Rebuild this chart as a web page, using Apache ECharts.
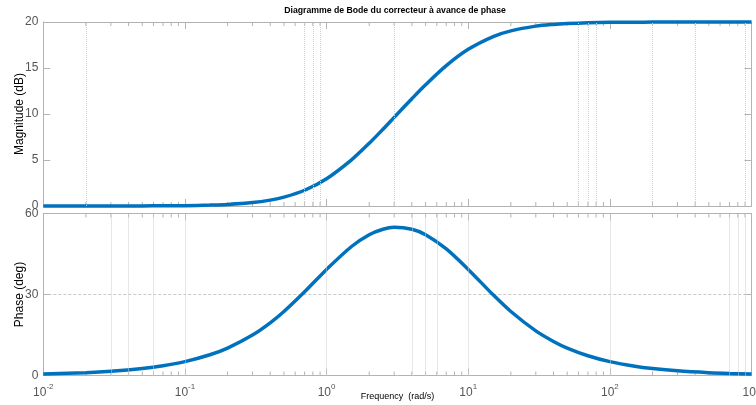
<!DOCTYPE html>
<html><head><meta charset="utf-8">
<script src="https://cdn.jsdelivr.net/npm/echarts@6/dist/echarts.min.js"></script>
<style>html,body{margin:0;padding:0;background:#fff}#c{width:756px;height:405px}</style>
</head><body><div id="c"></div>
<script>
// Frequency samples (rad/s)
const freq = [0.01,0.02,0.03,0.05,0.07,0.1,0.15,0.2,0.3,0.4,0.5,0.7,1,1.5,2,2.5,3,4,5,7,10,15,20,30,40,50,70,100,150,200,300,500,700,1000];
// Magnitude (dB)
const magDb = [0.00,0.00,0.00,0.01,0.02,0.04,0.10,0.17,0.37,0.64,0.96,1.71,2.97,5.02,6.82,8.34,9.63,11.66,13.18,15.26,17.03,18.42,19.04,19.55,19.74,19.83,19.91,19.96,19.98,19.99,20.00,20.00,20.00,20.00];
// Phase (deg)
const phaseDeg = [0.52,1.03,1.55,2.58,3.60,5.14,7.67,10.16,14.98,19.51,23.70,30.99,39.29,47.78,52.12,54.16,54.87,54.16,52.13,46.88,39.29,29.88,23.71,16.52,12.61,10.16,7.31,5.14,3.43,2.58,1.72,1.03,0.74,0.52];
// Visible vertical grid lines
const magGrid = [0.02,0.7,0.8,0.9,3,60,70,80,200,400,900];
const phaseGrid = [0.03,0.04,0.06,0.1,1,4,5,6,10,100,700,800,900];
// Minor tick positions on the log axis
const minorTicks = [];
[0.01,0.1,1,10,100].forEach(d => { for (let k = 2; k <= 9; k++) minorTicks.push(+(d*k).toPrecision(3)); });
const magRange = [0, 20], phaseRange = [0, 60];

const FONT = "'Liberation Sans', Arial, sans-serif";
const AX = '#b3b3b3', LBL = '#555';
const chart = echarts.init(document.getElementById('c'), null, {renderer: 'canvas'});

function xAx(grid, pos, labels, extra) {
  return Object.assign({
    type: 'log', logBase: 10, min: 0.01, max: 1000, gridIndex: grid, position: pos,
    axisLine: {show: true, onZero: false, lineStyle: {color: AX, width: 1}},
    axisTick: {show: true, inside: true, length: 7, lineStyle: {color: AX}},
    axisLabel: labels ? {
      show: true, margin: 7, color: LBL, fontFamily: FONT, hideOverlap: false,
      formatter: v => '{b|10}{s|' + Math.round(Math.log10(v)) + '}',
      rich: {b: {fontSize: 12, lineHeight: 16, verticalAlign: 'bottom', color: LBL, fontFamily: FONT},
             s: {fontSize: 8, lineHeight: 10, verticalAlign: 'top', color: LBL, fontFamily: FONT}}
    } : {show: false},
    splitLine: {show: false}, minorTick: {show: false}
  }, extra || {});
}
function yAx(grid, pos, rng, interval, labels, name, split) {
  return {
    type: 'value', gridIndex: grid, position: pos, min: rng[0], max: rng[1], interval: interval,
    axisLine: {show: true, lineStyle: {color: AX, width: 1}},
    axisTick: {show: true, inside: true, length: 7, lineStyle: {color: AX}},
    axisLabel: labels ? {show: true, color: LBL, fontSize: 12, fontFamily: FONT, margin: 5} : {show: false},
    splitLine: {show: !!split, lineStyle: {color: '#c8c8c8', type: [3, 2], width: 1}},
    name: name || '', nameLocation: 'middle', nameGap: 18, nameRotate: 90, nameMoveOverlap: false,
    nameTextStyle: {color: '#000', fontSize: 12, fontFamily: FONT}
  };
}
function ticksSeries(xi, yi, rng, gridVals) {
  return {
    type: 'custom', xAxisIndex: xi, yAxisIndex: yi, z: 1, silent: true,
    data: minorTicks.map(v => [v]),
    renderItem: (params, api) => {
      const x = api.value(0);
      const b = api.coord([x, rng[0]]), t = api.coord([x, rng[1]]);
      const st = {stroke: AX, lineWidth: 1};
      return {type: 'group', children: [
        {type: 'line', shape: {x1: b[0], y1: b[1], x2: b[0], y2: b[1] - 4}, style: st},
        {type: 'line', shape: {x1: t[0], y1: t[1], x2: t[0], y2: t[1] + 4}, style: st}
      ]};
    },
    markLine: {
      silent: true, symbol: ['none', 'none'], label: {show: false},
      lineStyle: {color: '#cfcfcf', type: [1, 1], width: 1},
      data: gridVals.map(v => ({xAxis: v}))
    }
  };
}

chart.setOption({
  animation: false,
  backgroundColor: '#fff',
  graphic: [{type: 'text', x: 395, y: 10.5,
    style: {text: 'Diagramme de Bode du correcteur à avance de phase', font: 'bold 8.7px ' + FONT,
      fill: '#000', textAlign: 'center', textVerticalAlign: 'middle'}}],
  grid: [
    {left: 43.3, right: 4.5, top: 22, height: 184, containLabel: false, outerBoundsMode: 'none'},
    {left: 43.3, right: 4.5, top: 213.5, height: 162, containLabel: false, outerBoundsMode: 'none'}
  ],
  xAxis: [
    xAx(0, 'bottom', false),
    xAx(0, 'top', false),
    xAx(1, 'bottom', true, {name: 'Frequency  (rad/s)', nameLocation: 'middle', nameGap: 17, nameMoveOverlap: false,
      nameTextStyle: {color: '#000', fontSize: 9, fontFamily: FONT}}),
    xAx(1, 'top', false)
  ],
  yAxis: [
    yAx(0, 'left', magRange, 5, true, 'Magnitude (dB)', false),
    yAx(0, 'right', magRange, 5, false, '', false),
    yAx(1, 'left', phaseRange, 30, true, 'Phase (deg)', true),
    yAx(1, 'right', phaseRange, 30, false, '', false)
  ],
  series: [
    ticksSeries(0, 0, magRange, magGrid),
    ticksSeries(2, 2, phaseRange, phaseGrid),
    {type: 'line', xAxisIndex: 0, yAxisIndex: 0, z: 3, clip: false, smooth: 0.3, symbol: 'none',
      lineStyle: {color: '#0072BD', width: 3.5}, data: freq.map((f, i) => [f, magDb[i]])},
    {type: 'line', xAxisIndex: 2, yAxisIndex: 2, z: 3, clip: false, smooth: 0.3, symbol: 'none',
      lineStyle: {color: '#0072BD', width: 3.5}, data: freq.map((f, i) => [f, phaseDeg[i]])}
  ]
});
</script></body></html>
